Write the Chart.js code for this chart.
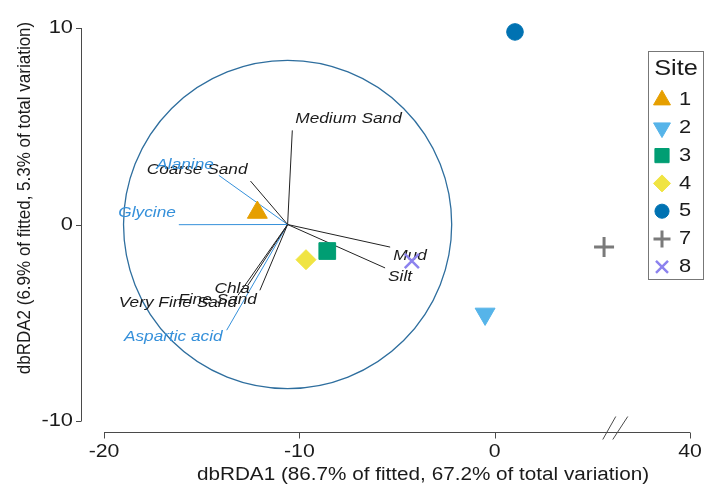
<!DOCTYPE html>
<html>
<head>
<meta charset="utf-8">
<script src="https://cdn.jsdelivr.net/npm/chart.js@4"></script>
<style>
  body { margin: 0; background: #fff; }
</style>
</head>
<body>
<canvas id="myChart" width="712" height="496"></canvas>
<script>
// site scores (plotted axis units, x axis is broken after the 0 tick)
const sites = ["1", "2", "3", "4", "5", "7", "8"];
const siteX = [-12.15, -0.49, -8.57, -9.66, 1.04, 5.6, -4.24];
const siteY = [0.61, -4.55, -1.35, -1.79, 9.8, -1.15, -1.86];

// vector overlay
const vectorNames = ["Medium Sand", "Coarse Sand", "Alanine", "Glycine", "Mud", "Silt",
  "Chla", "Fine Sand", "Very Fine Sand", "Aspartic acid"];
const vectorX = [-10.36, -12.5, -14.12, -16.17, -5.35, -5.61, -12.63, -12.02, -13.14, -13.72];
const vectorY = [4.79, 2.21, 2.5, -0.01, -1.15, -2.21, -3.09, -3.35, -3.6, -5.38];
const vectorGroup = ["env", "env", "aa", "aa", "env", "env", "env", "env", "env", "aa"];
const vectorOrigin = [-10.6, 0];
const circleRadius = 8.4;

const xTicks = [-20, -10, 0, 10];
const xTickLabels = ["-20", "-10", "0", "40"];
const yTicks = [-10, 0, 10];
const xBreak = 6.2;

// styling
const siteStyle = [
  { pointStyle: "triangle", color: "#E69F00", radius: 11.5, rotation: 0 },
  { pointStyle: "triangle", color: "#56B4E9", radius: 11.5, rotation: 180 },
  { pointStyle: "rect", color: "#009E73", radius: 11.8, rotation: 0 },
  { pointStyle: "rectRot", color: "#F0E442", radius: 10, rotation: 0 },
  { pointStyle: "circle", color: "#0072B2", radius: 8.3, rotation: 0 },
  { pointStyle: "cross", color: "#7A7A7A", radius: 10, rotation: 0, line: 3 },
  { pointStyle: "crossRot", color: "#8C82EE", radius: 10, rotation: 0, line: 2.5 },
];
const labelPlace = [
  [3, -12, "left"], [-3, -11, "right"], [-5, -11, "right"], [-3, -12, "right"],
  [3, 9, "left"], [3, 9, "left"], [2, 4, "right"], [-3, 10, "right"],
  [-1, 8, "right"], [-4, 7, "right"],
];
const FONT = '"Liberation Sans", Arial, sans-serif';
const TEXT = "#1b1b1b";
const AXIS = "#4a4a4a";
const BLUE = "#3590DA";

function txt(ctx, s, x, y, font, color, align, sx) {
  ctx.save();
  ctx.font = font;
  ctx.fillStyle = color;
  ctx.textBaseline = "middle";
  ctx.textAlign = align;
  ctx.translate(x, y);
  ctx.scale(sx || 1.15, 1);
  ctx.fillText(s, 0, 0);
  ctx.restore();
}

function marker(ctx, st, x, y, scale) {
  ctx.save();
  ctx.fillStyle = st.color;
  ctx.strokeStyle = st.color;
  ctx.lineWidth = st.line || 1;
  const opts = { pointStyle: st.pointStyle, rotation: st.rotation, radius: st.radius * scale, borderWidth: st.line || 1 };
  Chart.helpers.drawPoint(ctx, opts, x, y);
  ctx.restore();
}

const datasets = [];
vectorNames.forEach((name, i) => {
  const c = vectorGroup[i] === "aa" ? BLUE : "#222";
  datasets.push({
    label: name,
    data: [{ x: vectorOrigin[0], y: vectorOrigin[1] }, { x: vectorX[i], y: vectorY[i] }],
    showLine: true,
    borderColor: c,
    borderWidth: 1,
    pointRadius: 0,
    order: 2,
  });
});
sites.forEach((s, i) => {
  const st = siteStyle[i];
  datasets.push({
    label: s,
    data: [{ x: siteX[i], y: siteY[i] }],
    pointStyle: st.pointStyle,
    pointRotation: st.rotation,
    pointRadius: st.radius,
    backgroundColor: st.color,
    borderColor: st.color,
    borderWidth: st.line || 1,
    clip: false,
    order: 1,
  });
});

const overlay = {
  id: "overlay",
  beforeDatasetsDraw(chart) {
    const ctx = chart.ctx;
    const xs = chart.scales.x, ys = chart.scales.y;
    // vector circle
    const cx = xs.getPixelForValue(vectorOrigin[0]);
    const cy = ys.getPixelForValue(vectorOrigin[1]);
    const r = xs.getPixelForValue(vectorOrigin[0] + circleRadius) - cx;
    ctx.save();
    ctx.strokeStyle = "#2E6E9E";
    ctx.lineWidth = 1.3;
    ctx.beginPath();
    ctx.arc(cx, cy, r, 0, Math.PI * 2);
    ctx.stroke();

    // y axis
    const ax = 81;
    const yTop = ys.getPixelForValue(10), yBot = ys.getPixelForValue(-10);
    ctx.strokeStyle = AXIS;
    ctx.lineWidth = 1;
    ctx.beginPath();
    ctx.moveTo(ax + 0.5, yTop);
    ctx.lineTo(ax + 0.5, yBot);
    yTicks.forEach(v => {
      const p = Math.round(ys.getPixelForValue(v)) + 0.5;
      ctx.moveTo(ax + 0.5, p);
      ctx.lineTo(ax - 5, p);
    });
    // x axis
    const ay = 432.5;
    const xL = xs.getPixelForValue(-20), xR = xs.getPixelForValue(10);
    ctx.moveTo(xL, ay);
    ctx.lineTo(xR, ay);
    xTicks.forEach(v => {
      const p = Math.round(xs.getPixelForValue(v)) + 0.5;
      ctx.moveTo(p, ay);
      ctx.lineTo(p, ay + 6);
    });
    ctx.stroke();
    // axis break
    const bx = xs.getPixelForValue(xBreak);
    ctx.beginPath();
    ctx.moveTo(bx - 13, ay + 7);
    ctx.lineTo(bx, ay - 16);
    ctx.moveTo(bx - 3, ay + 7);
    ctx.lineTo(bx + 12, ay - 16);
    ctx.stroke();
    ctx.restore();

    yTicks.forEach(v => {
      txt(ctx, String(v), 73, ys.getPixelForValue(v), "19px " + FONT, TEXT, "right");
    });
    xTicks.forEach((v, i) => {
      txt(ctx, xTickLabels[i], xs.getPixelForValue(v), 452, "18.5px " + FONT, TEXT, "center");
    });
    txt(ctx, "dbRDA1 (86.7% of fitted, 67.2% of total variation)", 423, 475, "18px " + FONT, TEXT, "center");
    ctx.save();
    ctx.translate(25, 198);
    ctx.rotate(-Math.PI / 2);
    ctx.scale(1, 1.1);
    ctx.font = "17px " + FONT;
    ctx.fillStyle = TEXT;
    ctx.textAlign = "center";
    ctx.textBaseline = "middle";
    ctx.fillText("dbRDA2 (6.9% of fitted, 5.3% of total variation)", 0, 0);
    ctx.restore();
  },
  afterDatasetDraw(chart, args) {
    if (args.index !== 0) return;
    const ctx = chart.ctx;
    const xs = chart.scales.x, ys = chart.scales.y;
    vectorNames.forEach((name, i) => {
      const px = xs.getPixelForValue(vectorX[i]) + labelPlace[i][0];
      const py = ys.getPixelForValue(vectorY[i]) + labelPlace[i][1];
      const c = vectorGroup[i] === "aa" ? BLUE : TEXT;
      txt(ctx, name, px, py, "italic 15px " + FONT, c, labelPlace[i][2]);
    });
  },
  afterDraw(chart) {
    const ctx = chart.ctx;
    // legend box
    ctx.save();
    ctx.strokeStyle = "#777";
    ctx.lineWidth = 1;
    ctx.strokeRect(648.5, 51.5, 55, 228);
    ctx.restore();
    txt(ctx, "Site", 676, 69, "22px " + FONT, TEXT, "center");
    sites.forEach((s, i) => {
      const y = 100 + i * 27.8;
      marker(ctx, siteStyle[i], 662, y, 0.85);
      txt(ctx, s, 679, y, "19px " + FONT, TEXT, "left");
    });
  },
};

new Chart(document.getElementById("myChart"), {
  type: "scatter",
  data: { datasets },
  options: {
    responsive: false,
    animation: false,
    layout: { padding: { left: 104, right: 22, top: 28, bottom: 75 } },
    scales: {
      x: { type: "linear", min: -20, max: 10, display: false },
      y: { type: "linear", min: -10, max: 10, display: false },
    },
    plugins: { legend: { display: false }, tooltip: { enabled: false } },
  },
  plugins: [overlay],
});
</script>
</body>
</html>
